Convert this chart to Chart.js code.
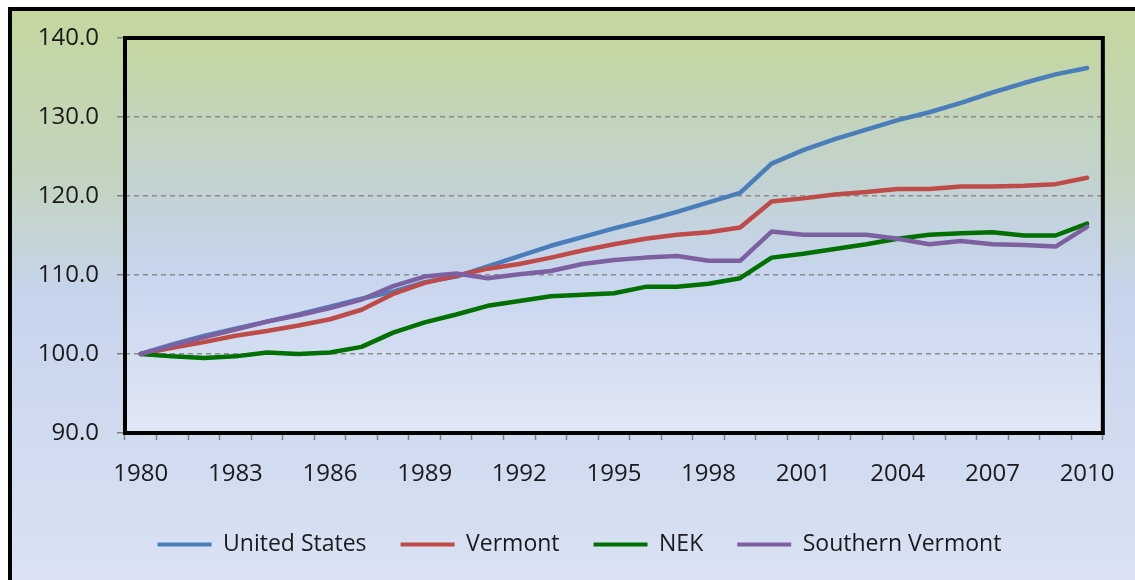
<!DOCTYPE html>
<html>
<head>
<meta charset="utf-8">
<script src="https://cdn.jsdelivr.net/npm/chart.js@4.4.1/dist/chart.umd.min.js"></script>
<style>
  html, body { margin: 0; padding: 0; background: #fff; }
  #wrap { width: 1135px; height: 580px; position: relative; }
</style>
</head>
<body>
<div id="wrap"><canvas id="popChart"></canvas></div>
<script>
// Population index, 1980 = 100
const years = ['1980', '1981', '1982', '1983', '1984', '1985', '1986', '1987', '1988', '1989',
    '1990', '1991', '1992', '1993', '1994', '1995', '1996', '1997', '1998', '1999',
    '2000', '2001', '2002', '2003', '2004', '2005', '2006', '2007', '2008', '2009', '2010'];

const unitedStates = [100.0, 101.2, 102.3, 103.2, 104.1, 105.0, 106.0, 107.0, 107.9, 109.1,
    109.8, 111.1, 112.4, 113.7, 114.8, 115.9, 116.9, 118.0, 119.2, 120.4,
    124.1, 125.8, 127.2, 128.4, 129.6, 130.6, 131.8, 133.1, 134.3, 135.4, 136.2];

const vermont = [100.0, 100.8, 101.5, 102.3, 102.9, 103.6, 104.4, 105.6, 107.6, 109.0,
    109.9, 110.8, 111.4, 112.2, 113.1, 113.9, 114.6, 115.1, 115.4, 116.0,
    119.3, 119.7, 120.2, 120.5, 120.9, 120.9, 121.2, 121.2, 121.3, 121.5, 122.3];

const nek = [100.0, 99.7, 99.5, 99.7, 100.2, 100.0, 100.2, 100.9, 102.7, 104.0,
    105.0, 106.1, 106.7, 107.3, 107.5, 107.7, 108.5, 108.5, 108.9, 109.6,
    112.2, 112.7, 113.3, 113.9, 114.6, 115.1, 115.3, 115.4, 115.0, 115.0, 116.5];

const southernVermont = [100.0, 101.1, 102.1, 103.1, 104.1, 104.9, 105.8, 106.9, 108.6, 109.8,
    110.2, 109.6, 110.1, 110.5, 111.4, 111.9, 112.2, 112.4, 111.8, 111.8,
    115.5, 115.1, 115.1, 115.1, 114.6, 113.9, 114.3, 113.9, 113.8, 113.6, 116.1];

const seriesNames = ['United States', 'Vermont', 'NEK', 'Southern Vermont'];
const seriesColors = ['#4A7EBB', '#BE4B48', '#007000', '#7D60A0'];

const yTicks = [90, 100, 110, 120, 130, 140];

// Backgrounds: outer chart area + plot area gradients, black frame
const backdrop = {
    id: 'backdrop',
    afterLayout(chart) {
        // legend sits a bit right of the canvas centre in the original
        chart.legend.left += 27;
        chart.legend.right += 27;
    },
    beforeDraw(chart) {
        const { ctx, chartArea: a } = chart;
        ctx.save();
        ctx.fillStyle = '#ffffff';
        ctx.fillRect(0, 0, chart.width, chart.height);

        let g = ctx.createLinearGradient(0, 9, 0, 580);
        g.addColorStop(0, '#C4D79E');
        g.addColorStop(0.3, '#C3D4C0');
        g.addColorStop(0.5, '#C6D4EC');
        g.addColorStop(1, '#DAE2F3');
        ctx.fillStyle = g;
        ctx.fillRect(10, 9, chart.width - 10, chart.height - 9);

        g = ctx.createLinearGradient(0, a.top, 0, a.bottom);
        g.addColorStop(0, '#C4D79E');
        g.addColorStop(0.4, '#C2D2D6');
        g.addColorStop(0.6, '#C7D5EE');
        g.addColorStop(1, '#E1E7F5');
        ctx.fillStyle = g;
        ctx.fillRect(a.left, a.top, a.right - a.left, a.bottom - a.top);

        ctx.strokeStyle = '#000';
        ctx.lineWidth = 4;
        ctx.beginPath();
        ctx.moveTo(10, chart.height);
        ctx.lineTo(10, 9);
        ctx.lineTo(chart.width, 9);
        ctx.stroke();
        ctx.restore();
    },
    beforeDatasetsDraw(chart) {
        const { ctx, chartArea: a } = chart;
        ctx.save();
        ctx.strokeStyle = '#000';
        ctx.lineWidth = 4;
        ctx.strokeRect(a.left, a.top, a.right - a.left, a.bottom - a.top);
        ctx.restore();
    }
};

const ctx = document.getElementById('popChart').getContext('2d');

new Chart(ctx, {
    type: 'line',
    data: {
        labels: years,
        datasets: [unitedStates, vermont, nek, southernVermont].map((d, i) => ({
            label: seriesNames[i],
            data: d,
            borderColor: seriesColors[i],
            backgroundColor: seriesColors[i],
            borderWidth: 4.5,
            pointRadius: 0,
            tension: 0,
            borderCapStyle: 'round',
            borderJoinStyle: 'round',
            order: 3 - i // later series drawn on top, like Excel
        }))
    },
    options: {
        responsive: true,
        maintainAspectRatio: false,
        animation: false,
        layout: {
            padding: { top: 38, right: 30, left: 0, bottom: 14 }
        },
        scales: {
            x: {
                offset: true,
                grid: {
                    offset: true,
                    drawOnChartArea: false,
                    drawTicks: true,
                    tickLength: 7,
                    tickColor: '#808080',
                    tickWidth: 1.5
                },
                border: { display: false },
                ticks: {
                    autoSkip: false,
                    maxRotation: 0,
                    padding: 20,
                    color: '#1a1a1a',
                    font: { family: 'Open Sans', size: 24 },
                    callback: function (value, index) {
                        return index % 3 === 0 ? years[index] : '';
                    }
                },
                afterFit: (scale) => { scale.height = 66; }
            },
            y: {
                min: 90,
                max: 140,
                afterBuildTicks: (scale) => { scale.ticks = yTicks.map(v => ({ value: v })); },
                grid: {
                    color: '#8c8c8c',
                    lineWidth: 1.5,
                    drawTicks: true,
                    tickLength: 8,
                    tickColor: '#808080',
                    tickBorderDash: []
                },
                border: { display: false, dash: [5, 4] },
                ticks: {
                    padding: 18,
                    color: '#1a1a1a',
                    font: { family: 'Open Sans', size: 24 },
                    callback: (v) => Number(v).toFixed(1)
                },
                afterFit: (scale) => { scale.width = 125; }
            }
        },
        plugins: {
            legend: {
                display: true,
                position: 'bottom',
                labels: {
                    boxWidth: 54,
                    boxHeight: 4,
                    padding: 34,
                    color: '#1a1a1a',
                    font: { family: 'Open Sans', size: 23 },
                    sort: (a, b) => a.datasetIndex - b.datasetIndex,
                    generateLabels: (chart) => Chart.defaults.plugins.legend.labels.generateLabels(chart)
                        .map(item => Object.assign(item, { lineWidth: 0, fillStyle: seriesColors[item.datasetIndex] }))
                }
            },
            tooltip: { enabled: false }
        }
    },
    plugins: [backdrop]
});
</script>
</body>
</html>
